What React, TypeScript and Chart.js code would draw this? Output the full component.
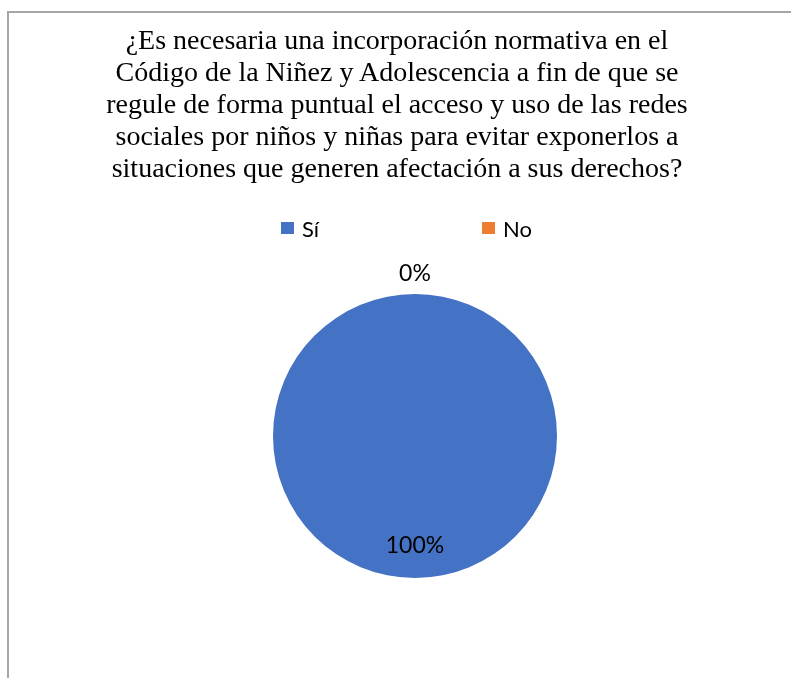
import React, { useEffect, useRef } from "react";
import { Chart, registerables } from "chart.js";

Chart.register(...registerables);

const titleLines = [
  "¿Es necesaria una incorporación normativa en el",
  "Código de la Niñez y Adolescencia a fin de que se",
  "regule de forma puntual el acceso y uso de las redes",
  "sociales por niños y niñas para evitar exponerlos a",
  "situaciones que generen afectación a sus derechos?",
];
const categories = ["Sí", "No"];
const values = [100, 0];
const colors = ["#4472C4", "#ED7D31"];
const pctLabels = ["100%", "0%"];

const labelPlugin = {
  id: "pctLabels",
  afterDatasetsDraw(chart: any) {
    const ctx = chart.ctx;
    const meta = chart.getDatasetMeta(0);
    ctx.save();
    ctx.font = "23px Lato, 'Open Sans', sans-serif";
    ctx.fillStyle = "#000";
    ctx.textAlign = "center";
    ctx.textBaseline = "middle";
    meta.data.forEach((arc: any, i: number) => {
      const p = arc.getProps(["x", "y", "startAngle", "endAngle", "outerRadius"], true);
      const mid = (p.startAngle + p.endAngle) / 2;
      const r = values[i] === 0 ? p.outerRadius + 20 : p.outerRadius * 0.77;
      ctx.fillText(pctLabels[i], p.x + Math.cos(mid) * r, p.y + Math.sin(mid) * r);
    });
    ctx.restore();
  },
};

export default function App() {
  const ref = useRef<HTMLCanvasElement | null>(null);
  useEffect(() => {
    if (!ref.current) return;
    const chart = new Chart(ref.current, {
      type: "pie",
      data: {
        labels: categories,
        datasets: [
          {
            data: values,
            backgroundColor: colors,
            borderWidth: 0,
          },
        ],
      },
      options: {
        animation: false,
        responsive: false,
        layout: { padding: { left: 273, right: 234, top: 294, bottom: 100 } },
        plugins: {
          legend: { display: false },
          title: { display: false },
          tooltip: { enabled: false },
        },
      },
      plugins: [labelPlugin],
    });
    return () => chart.destroy();
  }, []);

  const legendItem = (i: number, left: number) => (
    <div
      key={i}
      style={{
        position: "absolute",
        left,
        top: 213,
        height: 30,
        display: "flex",
        alignItems: "center",
        fontFamily: "Lato, 'Open Sans', sans-serif",
        fontSize: 22,
        color: "#000",
      }}
    >
      <span
        style={{
          display: "inline-block",
          width: 13,
          height: 12,
          background: colors[i],
          marginRight: 8,
        }}
      />
      {categories[i]}
    </div>
  );

  return (
    <div style={{ position: "fixed", left: 0, top: 0, width: 791, height: 678, background: "#fff", overflow: "hidden" }}>
      <div
        style={{
          position: "absolute",
          left: 7,
          top: 11,
          right: -2,
          bottom: -2,
          borderTop: "2px solid #a6a6a6",
          borderLeft: "2px solid #a6a6a6",
        }}
      />
      <canvas ref={ref} width={791} height={678} style={{ position: "absolute", left: 0, top: 0 }} />
      <div
        style={{
          position: "absolute",
          left: 0,
          width: 794,
          top: 24,
          textAlign: "center",
          fontFamily: "'Liberation Serif', 'Times New Roman', serif",
          fontSize: 28,
          lineHeight: "32px",
          color: "#000",
        }}
      >
        {titleLines.map((l, i) => (
          <div key={i}>{l}</div>
        ))}
      </div>
      {legendItem(0, 281)}
      {legendItem(1, 482)}
    </div>
  );
}
